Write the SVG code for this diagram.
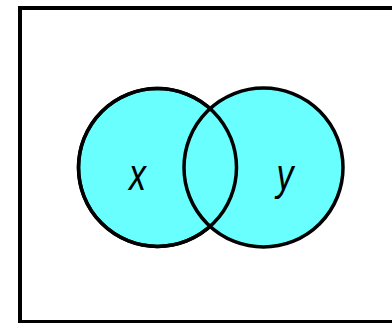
<svg xmlns="http://www.w3.org/2000/svg" width="392" height="323" viewBox="0 0 392 323">
<style>
.set{fill:#6affff;stroke:#000;stroke-width:3.5}
.lbl{font-family:"Liberation Sans",Arial,sans-serif;font-style:italic;font-size:34px;fill:#000;text-anchor:middle}
</style>
<rect x="20" y="8" width="380" height="314" fill="#fff" stroke="#000" stroke-width="4"/>
<g id="set-x"><circle class="set" cx="157.5" cy="167.5" r="79"/></g>
<g id="set-y"><circle class="set" cx="263.5" cy="167.5" r="79.5"/></g>
<g id="outline"><circle cx="157.5" cy="167.5" r="79" fill="none" stroke="#000" stroke-width="3.5"/></g>
<g id="labels">
<g transform="translate(137.5,190) scale(1,1.3)"><text class="lbl" x="0" y="0">x</text></g>
<g transform="translate(285,190) scale(1,1.3)"><text class="lbl" x="0" y="0">y</text></g>
</g>
</svg>
